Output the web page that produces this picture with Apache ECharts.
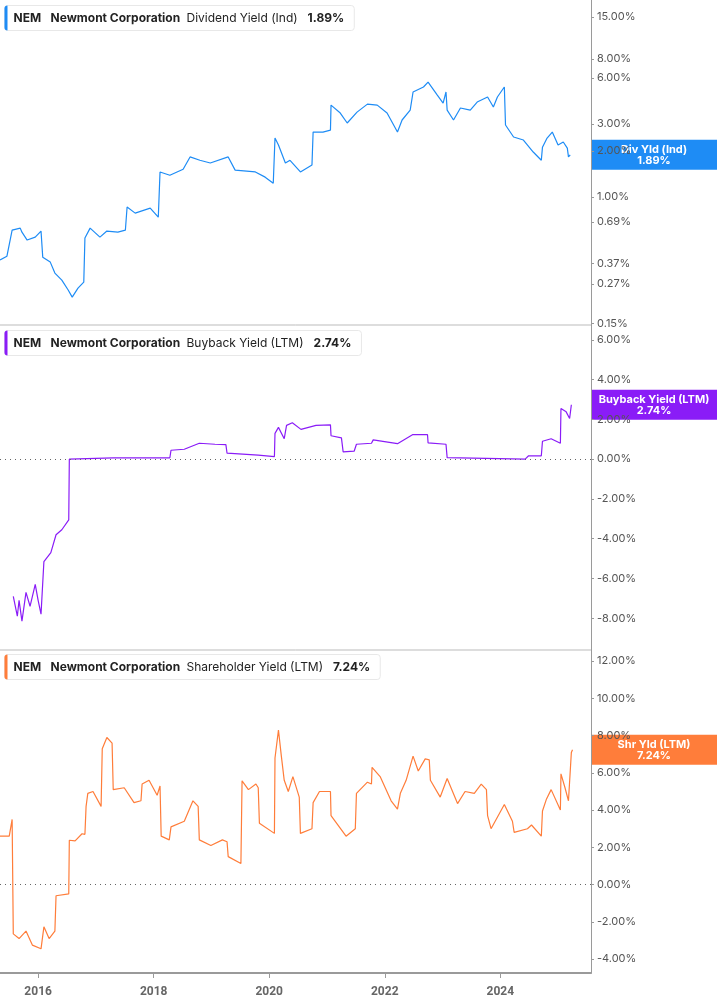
<!DOCTYPE html>
<html>
<head>
<meta charset="utf-8">
<script src="https://cdn.jsdelivr.net/npm/echarts@6/dist/echarts.min.js"></script>
<style>
  html, body { margin: 0; padding: 0; background: #fff; }
  #main { width: 717px; height: 1005px; }
</style>
</head>
<body>
<div id="main"></div>
<script>
// dates as decimal years
var divYears = [2015.34,2015.46,2015.55,2015.69,2015.72,2015.81,2015.95,2016.05,2016.08,2016.21,2016.29,2016.41,2016.52,2016.59,2016.69,2016.79,2016.81,2016.90,2017.07,2017.19,2017.38,2017.51,2017.54,2017.68,2017.94,2018.08,2018.11,2018.28,2018.51,2018.63,2018.80,2018.98,2019.29,2019.41,2019.76,2019.93,2020.07,2020.10,2020.16,2020.28,2020.36,2020.54,2020.74,2020.76,2020.93,2021.06,2021.07,2021.23,2021.35,2021.52,2021.70,2021.87,2022.04,2022.22,2022.30,2022.44,2022.49,2022.67,2022.75,2022.91,2023.01,2023.06,2023.08,2023.19,2023.31,2023.48,2023.60,2023.78,2023.88,2023.95,2024.07,2024.09,2024.23,2024.40,2024.57,2024.71,2024.73,2024.81,2024.90,2025.00,2025.09,2025.16,2025.18,2025.21];
var divValues = [0.388,0.411,0.608,0.627,0.590,0.524,0.548,0.600,0.405,0.376,0.319,0.287,0.247,0.222,0.254,0.278,0.540,0.627,0.548,0.600,0.590,0.608,0.861,0.786,0.848,0.740,1.46,1.39,1.52,1.83,1.74,1.67,1.83,1.50,1.46,1.35,1.23,2.43,2.19,1.67,1.74,1.46,1.62,2.66,2.66,2.74,3.99,3.54,3.05,3.59,4.05,3.99,3.54,2.66,3.19,3.70,4.86,5.24,5.64,4.64,4.11,4.86,3.70,3.19,3.82,3.70,4.18,4.51,3.88,4.51,5.24,2.96,2.47,2.36,1.97,1.74,2.12,2.43,2.66,2.19,2.29,2.09,1.83,1.89];

var bbYears = [2015.57,2015.64,2015.67,2015.72,2015.79,2015.86,2015.95,2016.00,2016.05,2016.10,2016.22,2016.31,2016.41,2016.53,2016.54,2017.30,2018.28,2018.30,2018.53,2018.79,2019.06,2019.25,2019.27,2019.81,2020.09,2020.10,2020.16,2020.26,2020.29,2020.30,2020.40,2020.55,2020.81,2021.06,2021.07,2021.25,2021.28,2021.47,2021.51,2021.77,2021.80,2022.22,2022.48,2022.74,2022.75,2023.06,2023.08,2024.43,2024.49,2024.71,2024.73,2024.88,2025.04,2025.05,2025.14,2025.20,2025.23];
var bbValues = [-6.9,-7.9,-7.1,-8.15,-6.7,-7.4,-6.3,-7.1,-7.8,-5.15,-4.7,-3.8,-3.55,-3.05,0.0,0.07,0.07,0.45,0.5,0.8,0.75,0.73,0.3,0.2,0.13,1.3,1.6,1.03,1.03,1.7,1.83,1.5,1.7,1.73,1.18,1.07,0.37,0.4,0.75,0.8,0.97,0.78,1.23,1.23,0.82,0.75,0.08,0.0,0.17,0.17,0.9,1.03,0.8,2.55,2.38,2.05,2.74];

var shYears = [2015.34,2015.50,2015.55,2015.57,2015.67,2015.79,2015.90,2016.05,2016.10,2016.19,2016.29,2016.31,2016.53,2016.54,2016.64,2016.76,2016.81,2016.83,2016.86,2016.95,2017.09,2017.11,2017.19,2017.28,2017.30,2017.49,2017.66,2017.78,2017.80,2017.92,2018.06,2018.11,2018.13,2018.27,2018.30,2018.53,2018.68,2018.77,2018.79,2018.99,2019.19,2019.27,2019.29,2019.51,2019.53,2019.64,2019.77,2019.81,2019.83,2020.09,2020.10,2020.16,2020.21,2020.26,2020.33,2020.41,2020.52,2020.54,2020.74,2020.76,2020.87,2021.06,2021.07,2021.33,2021.49,2021.51,2021.70,2021.77,2021.78,2021.92,2022.11,2022.22,2022.27,2022.37,2022.49,2022.58,2022.70,2022.77,2022.79,2022.96,2023.08,2023.26,2023.39,2023.55,2023.67,2023.76,2023.78,2023.84,2024.07,2024.21,2024.24,2024.47,2024.54,2024.71,2024.73,2024.80,2024.88,2025.04,2025.05,2025.12,2025.18,2025.23,2025.25];
var shValues = [2.6,2.6,3.5,-2.65,-2.9,-2.5,-3.25,-3.45,-2.27,-2.9,-2.5,-0.6,-0.5,2.38,2.35,2.73,2.7,4.2,4.9,5.0,4.2,7.3,7.9,7.6,5.1,5.2,4.4,4.5,5.4,5.6,4.8,5.3,2.6,2.4,3.1,3.4,4.5,4.2,2.4,2.1,2.4,2.3,1.5,1.13,5.57,5.1,5.4,5.2,3.3,2.75,6.8,8.3,6.9,5.6,5.0,5.8,4.7,2.75,3.0,4.4,5.0,5.0,3.7,2.6,3.0,4.9,5.5,5.4,6.3,5.8,4.5,4.05,4.9,5.6,6.9,6.1,6.75,6.7,5.6,4.7,5.7,4.35,5.0,4.9,5.4,5.1,3.7,3.0,4.3,3.4,2.8,3.0,3.2,2.6,3.95,4.6,5.1,4.0,5.95,5.2,4.5,7.1,7.24];

var divTicks = [0.15, 0.27, 0.37, 0.69, 1, 2, 3, 6, 8, 15];
var bbTicks = [-8, -6, -4, -2, 0, 2, 4, 6];
var shTicks = [-4, -2, 0, 2, 4, 6, 8, 10, 12];
var yearTicks = [2016, 2018, 2020, 2022, 2024];

var blue = '#1e8cf5', purple = '#8a1cf7', orange = '#ff7d3a';
var axisGray = '#9a9a9a', labelGray = '#555';

function pairs(xs, ys) { return xs.map(function (x, i) { return [x, ys[i]]; }); }
function pct(v) { return v.toFixed(2) + '%'; }

var measureCtx = document.createElement('canvas').getContext('2d');
function textW(t, font) { measureCtx.font = font; return measureCtx.measureText(t).width; }

var xMin = 2015.34, xMax = 2025.57;
var grids = [
  { left: 0, right: 126, top: 0, height: 325 },
  { left: 0, right: 126, top: 325, height: 325 },
  { left: 0, right: 126, top: 650, height: 323 }
];

function xAx(i, show) {
  return {
    type: 'value', gridIndex: i, min: xMin, max: xMax,
    axisLine: { show: show, onZero: false, lineStyle: { color: axisGray, width: 2 } },
    axisTick: { show: show, customValues: yearTicks, length: 5, lineStyle: { color: axisGray } },
    axisLabel: { show: show, customValues: yearTicks, color: '#666', fontWeight: 'bold', fontSize: 12, fontFamily: 'Roboto', margin: 13, formatter: function (v) { return String(v); } },
    splitLine: { show: false }
  };
}
function yAx(i, extra) {
  var base = {
    gridIndex: i, position: 'right',
    axisLine: { show: true, lineStyle: { color: axisGray } },
    axisTick: { show: true, length: 3, lineStyle: { color: axisGray } },
    axisLabel: { color: labelGray, fontSize: 11, fontFamily: 'Inter', margin: 6, formatter: function (v) { return pct(v); } },
    splitLine: { show: false }
  };
  for (var k in extra) base[k] = extra[k];
  base.axisLabel.customValues = extra.ticks;
  base.axisTick.customValues = extra.ticks;
  delete base.ticks;
  return base;
}

var zeroLine = {
  silent: true, symbol: 'none', label: { show: false },
  lineStyle: { color: '#666', type: [1, 4], width: 1 },
  data: [{ yAxis: 0 }]
};

var chart = echarts.init(document.getElementById('main'), null, { renderer: 'canvas' });
chart.setOption({
  animation: false,
  grid: grids,
  xAxis: [xAx(0, false), xAx(1, false), xAx(2, true)],
  yAxis: [
    yAx(0, { type: 'log', logBase: 10, min: 0.146, max: 19.4, ticks: divTicks }),
    yAx(1, { type: 'value', min: -9.6, max: 6.75, ticks: bbTicks }),
    yAx(2, { type: 'value', min: -4.75, max: 12.6, ticks: shTicks })
  ],
  series: [
    { type: 'line', xAxisIndex: 0, yAxisIndex: 0, data: pairs(divYears, divValues), showSymbol: false, lineStyle: { color: blue, width: 1.2 } },
    { type: 'line', xAxisIndex: 1, yAxisIndex: 1, data: pairs(bbYears, bbValues), showSymbol: false, lineStyle: { color: purple, width: 1.2 }, markLine: zeroLine },
    { type: 'line', xAxisIndex: 2, yAxisIndex: 2, data: pairs(shYears, shValues), showSymbol: false, lineStyle: { color: orange, width: 1.2 }, markLine: zeroLine }
  ]
});

function header(y, color, metric, value) {
  var valX = 182 + textW(metric, '12px Inter') + 10;
  var w = valX + textW(value, 'bold 12px Inter') + 10;
  return {
    type: 'group', left: 4, top: y, children: [
      { type: 'rect', shape: { x: 0, y: 0, width: w, height: 25, r: 3 }, style: { fill: '#fff', stroke: '#e8e8e8', lineWidth: 1 } },
      { type: 'rect', shape: { x: 0, y: 0, width: 3, height: 25, r: [3, 0, 0, 3] }, style: { fill: color } },
      { type: 'text', x: 9, y: 7, style: { text: 'NEM', font: 'bold 12px Inter', fill: '#222' } },
      { type: 'text', x: 46, y: 7, style: { text: 'Newmont Corporation', font: 'bold 12px Inter', fill: '#222' } },
      { type: 'text', x: 182, y: 7, style: { text: metric, font: '12px Inter', fill: '#222' } },
      { type: 'text', x: valX, y: 7, style: { text: value, font: 'bold 12px Inter', fill: '#222' } }
    ]
  };
}

function tag(seriesIdx, val, color, title) {
  var py = chart.convertToPixel({ xAxisIndex: seriesIdx, yAxisIndex: seriesIdx }, [xMax, val])[1];
  return {
    type: 'group', left: 591, top: py - 15, children: [
      { type: 'rect', shape: { x: 0, y: 0, width: 126, height: 30 }, style: { fill: color } },
      { type: 'text', x: 63, y: 4, style: { text: title + '\n' + pct(val), font: 'bold 11px Inter', fill: '#fff', align: 'center', lineHeight: 11 } }
    ]
  };
}

chart.setOption({
  graphic: [
    { type: 'line', shape: { x1: 0, y1: 325, x2: 591, y2: 325 }, style: { stroke: '#bbb', lineWidth: 1 } },
    { type: 'line', shape: { x1: 0, y1: 650, x2: 591, y2: 650 }, style: { stroke: '#bbb', lineWidth: 1 } },
    header(5, blue, 'Dividend Yield (Ind)', '1.89%'),
    header(330, purple, 'Buyback Yield (LTM)', '2.74%'),
    header(654, orange, 'Shareholder Yield (LTM)', '7.24%'),
    tag(0, 1.89, blue, 'Div Yld (Ind)'),
    tag(1, 2.74, purple, 'Buyback Yield (LTM)'),
    tag(2, 7.24, orange, 'Shr Yld (LTM)')
  ]
});
</script>
</body>
</html>
